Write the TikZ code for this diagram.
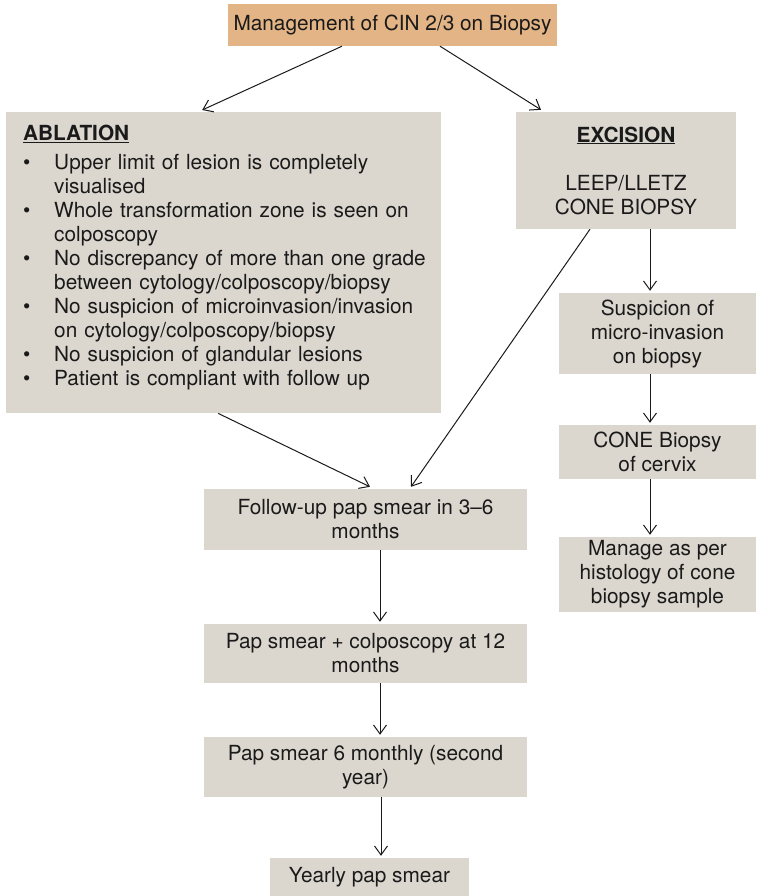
\documentclass[tikz,border=0pt]{standalone}
\usepackage{fontspec}
\setmainfont{TeX Gyre Heros}
\usetikzlibrary{arrows.meta}

\definecolor{headfill}{HTML}{E3B486}
\definecolor{boxfill}{HTML}{DBD7CF}
\definecolor{ink}{HTML}{1A1A1A}

% bullet list for the ablation criteria
\newenvironment{critlist}{\begin{list}{\textbullet}{%
  \setlength\leftmargin{31pt}\setlength\labelwidth{31pt}%
  \setlength\rightmargin{-14pt}%
  \setlength\labelsep{0pt}\setlength\itemsep{0pt}\setlength\parsep{0pt}%
  \setlength\topsep{5pt}\setlength\partopsep{0pt}%
  \renewcommand\makelabel[1]{##1\hfil}}}{\end{list}}

\tikzset{
  box/.style={fill=boxfill, inner sep=0pt, align=center, text=ink,
    font=\fontsize{20.8}{24}\selectfont},
  arr/.style={draw=ink, line width=1pt, -{Straight Barb[length=9pt,width=13pt]}},
}

\begin{document}
\begin{tikzpicture}[x=1pt,y=-1pt]
  \useasboundingbox (0,0) rectangle (756,896);

  \node[box, fill=headfill, minimum width=329, minimum height=42] (title) at (392.5,25)
    {Management of CIN 2/3 on Biopsy};

  \node[box, anchor=north west, text width=401, inner xsep=17, minimum height=301,
    align=left] (ablation) at (6,112) {%
    \underline{\textbf{ABLATION}}
    \begin{critlist}
      \item Upper limit of lesion is completely\newline visualised
      \item Whole transformation zone is seen on\newline colposcopy
      \item No discrepancy of more than one grade\newline between cytology/colposcopy/biopsy
      \item No suspicion of microinvasion/invasion\newline on cytology/colposcopy/biopsy
      \item No suspicion of glandular lesions
      \item Patient is compliant with follow up
    \end{critlist}\vspace{6pt}};

  \node[box, minimum width=220, minimum height=117] (excision) at (626,170.5)
    {\underline{\textbf{EXCISION}}\\[24pt]LEEP/LLETZ\\CONE BIOPSY};

  % excision branch
  \node[box, minimum width=197, minimum height=81] (suspicion) at (657.5,333.5)
    {Suspicion of\\micro-invasion\\on biopsy};
  \node[box, minimum width=197, minimum height=54] (cone) at (657.5,452)
    {CONE Biopsy\\of cervix};
  \node[box, minimum width=197, minimum height=75] (manage) at (657.5,574.5)
    {Manage as per\\histology of cone\\biopsy sample};

  % follow-up chain
  \node[box, minimum width=323, minimum height=61] (followup) at (365.5,519.5)
    {Follow-up pap smear in 3--6\\months};
  \node[box, minimum width=323, minimum height=59] (colpo) at (365.5,653.5)
    {Pap smear + colposcopy at 12\\months};
  \node[box, minimum width=323, minimum height=60] (sixmonth) at (365.5,767)
    {Pap smear 6 monthly (second\\year)};
  \node[box, minimum width=199, minimum height=38] (yearly) at (369.5,877)
    {Yearly pap smear};

  \draw[arr] ([xshift=-50.5]title.south) -- ([xshift=-21.5,yshift=2]ablation.north);
  \draw[arr] ([xshift=47.5]title.south) -- ([xshift=-85,yshift=2]excision.north);
  \draw[arr] ([xshift=-5.5]ablation.south) -- ([xshift=4.5,yshift=2]followup.north);
  \draw[arr] ([xshift=-36]excision.south) -- ([xshift=45.5,yshift=2]followup.north);
  \draw[arr] ([xshift=24]excision.south) -- ([xshift=-7.5,yshift=2]suspicion.north);
  \draw[arr] ([xshift=-7.5]suspicion.south) -- ([xshift=-7.5,yshift=2]cone.north);
  \draw[arr] ([xshift=-7.5]cone.south) -- ([xshift=-7.5,yshift=2]manage.north);
  \draw[arr] ([xshift=14.5]followup.south) -- ([xshift=14.5,yshift=2]colpo.north);
  \draw[arr] ([xshift=14.5]colpo.south) -- ([xshift=14.5,yshift=2]sixmonth.north);
  \draw[arr] ([xshift=15.5]sixmonth.south) -- ([xshift=11.5,yshift=2]yearly.north);
\end{tikzpicture}
\end{document}
